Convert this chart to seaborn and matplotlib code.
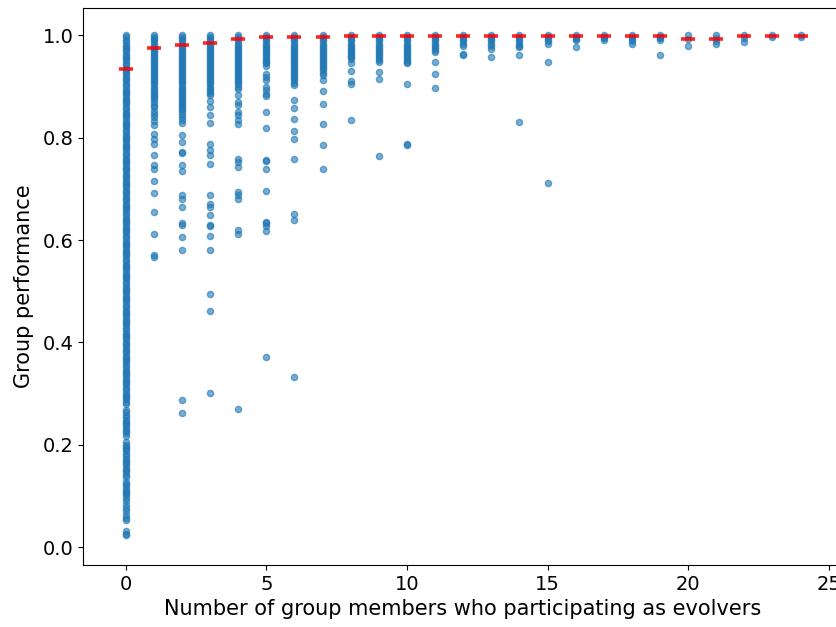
import matplotlib
matplotlib.use("Agg")
import matplotlib.pyplot as plt
import seaborn as sns
import pandas as pd

# ---- data ----
perf_0 = [
    1.000, 0.996, 0.991, 0.987, 0.982, 0.978, 0.973, 0.969, 0.964, 0.960,
    0.955, 0.951, 0.946, 0.942, 0.937, 0.933, 0.928, 0.924, 0.919, 0.915,
    0.910, 0.905, 0.901, 0.896, 0.892, 0.887, 0.883, 0.878, 0.874, 0.869,
    0.865, 0.860, 0.856, 0.851, 0.847, 0.842, 0.838, 0.833, 0.829, 0.824,
    0.820, 0.815, 0.811, 0.806, 0.802, 0.797, 0.793, 0.788, 0.784, 0.779,
    0.775, 0.770, 0.766, 0.761, 0.757, 0.752, 0.748, 0.743, 0.739, 0.734,
    0.730, 0.725, 0.721, 0.716, 0.712, 0.707, 0.703, 0.698, 0.694, 0.689,
    0.685, 0.680, 0.676, 0.671, 0.667, 0.662, 0.658, 0.653, 0.649, 0.644,
    0.640, 0.635, 0.631, 0.626, 0.622, 0.617, 0.613, 0.608, 0.604, 0.599,
    0.595, 0.590, 0.586, 0.581, 0.577, 0.572, 0.568, 0.563, 0.559, 0.554,
    0.550, 0.545, 0.541, 0.536, 0.532, 0.527, 0.523, 0.518, 0.514, 0.509,
    0.505, 0.500, 0.496, 0.491, 0.487, 0.482, 0.478, 0.473, 0.469, 0.464,
    0.460, 0.455, 0.451, 0.446, 0.442, 0.437, 0.433, 0.428, 0.424, 0.419,
    0.415, 0.410, 0.406, 0.401, 0.397, 0.392, 0.388, 0.383, 0.379, 0.374,
    0.370, 0.365, 0.361, 0.356, 0.352, 0.347, 0.343, 0.338, 0.334, 0.329,
    0.325, 0.320, 0.316, 0.311, 0.307, 0.302, 0.298, 0.293, 0.289, 0.284,
    0.279, 0.268, 0.263, 0.258, 0.254, 0.249, 0.245, 0.240, 0.236, 0.231,
    0.227, 0.222, 0.218, 0.205, 0.200, 0.196, 0.191, 0.187, 0.182, 0.178,
    0.173, 0.169, 0.164, 0.160, 0.155, 0.151, 0.146, 0.141, 0.137, 0.128,
    0.123, 0.119, 0.114, 0.110, 0.105, 0.101, 0.096, 0.090, 0.083, 0.076,
    0.070, 0.062, 0.057, 0.053, 0.031, 0.026, 0.023,
]
perf_1 = [
    1.000, 0.996, 0.992, 0.988, 0.984, 0.980, 0.976, 0.972, 0.968, 0.964,
    0.960, 0.956, 0.952, 0.948, 0.944, 0.940, 0.936, 0.932, 0.928, 0.924,
    0.920, 0.916, 0.912, 0.908, 0.904, 0.900, 0.896, 0.892, 0.888, 0.884,
    0.879, 0.875, 0.870, 0.864, 0.859, 0.853, 0.846, 0.840, 0.833, 0.824,
    0.808, 0.798, 0.788, 0.766, 0.746, 0.738, 0.715, 0.691, 0.655, 0.611,
    0.570, 0.567,
]
perf_2 = [
    1.000, 0.996, 0.992, 0.988, 0.984, 0.980, 0.976, 0.972, 0.968, 0.964,
    0.960, 0.956, 0.952, 0.948, 0.944, 0.940, 0.936, 0.932, 0.928, 0.924,
    0.920, 0.916, 0.912, 0.908, 0.904, 0.900, 0.896, 0.892, 0.888, 0.884,
    0.880, 0.876, 0.872, 0.868, 0.864, 0.860, 0.856, 0.852, 0.846, 0.840,
    0.834, 0.828, 0.806, 0.792, 0.773, 0.770, 0.747, 0.734, 0.688, 0.681,
    0.665, 0.633, 0.629, 0.605, 0.581, 0.288, 0.262,
]
perf_3 = [
    1.000, 0.996, 0.992, 0.988, 0.984, 0.980, 0.976, 0.972, 0.968, 0.964,
    0.960, 0.956, 0.952, 0.948, 0.944, 0.940, 0.936, 0.932, 0.928, 0.924,
    0.920, 0.916, 0.912, 0.908, 0.904, 0.900, 0.896, 0.892, 0.887, 0.883,
    0.871, 0.860, 0.844, 0.829, 0.788, 0.775, 0.766, 0.749, 0.688, 0.671,
    0.665, 0.648, 0.630, 0.627, 0.608, 0.581, 0.495, 0.462, 0.302,
]
perf_4 = [
    1.000, 0.996, 0.992, 0.988, 0.984, 0.980, 0.976, 0.972, 0.968, 0.964,
    0.960, 0.956, 0.952, 0.948, 0.944, 0.940, 0.936, 0.932, 0.928, 0.924,
    0.920, 0.916, 0.912, 0.908, 0.904, 0.900, 0.896, 0.883, 0.870, 0.863,
    0.850, 0.844, 0.834, 0.827, 0.759, 0.753, 0.743, 0.694, 0.688, 0.680,
    0.619, 0.611, 0.269,
]
perf_5 = [
    1.000, 0.996, 0.992, 0.988, 0.984, 0.980, 0.976, 0.972, 0.968, 0.964,
    0.960, 0.956, 0.952, 0.948, 0.945, 0.941, 0.925, 0.918, 0.912, 0.899,
    0.893, 0.886, 0.881, 0.850, 0.818, 0.757, 0.754, 0.738, 0.695, 0.636,
    0.634, 0.627, 0.618, 0.372,
]
perf_6 = [
    1.000, 0.996, 0.992, 0.988, 0.984, 0.980, 0.976, 0.972, 0.968, 0.964,
    0.960, 0.956, 0.952, 0.948, 0.944, 0.940, 0.936, 0.932, 0.928, 0.924,
    0.920, 0.916, 0.912, 0.907, 0.902, 0.873, 0.858, 0.837, 0.814, 0.798,
    0.758, 0.651, 0.639, 0.333,
]
perf_7 = [
    1.000, 0.996, 0.992, 0.988, 0.984, 0.980, 0.976, 0.972, 0.968, 0.964,
    0.960, 0.956, 0.952, 0.948, 0.944, 0.940, 0.936, 0.932, 0.927, 0.922,
    0.912, 0.891, 0.865, 0.827, 0.785, 0.738,
]
perf_8 = [
    1.000, 0.996, 0.992, 0.988, 0.984, 0.980, 0.976, 0.972, 0.968, 0.964,
    0.960, 0.957, 0.954, 0.945, 0.930, 0.910, 0.904, 0.834,
]
perf_9 = [
    1.000, 0.996, 0.992, 0.988, 0.984, 0.980, 0.976, 0.972, 0.968, 0.964,
    0.960, 0.956, 0.952, 0.948, 0.928, 0.914, 0.764,
]
perf_10 = [
    1.000, 0.996, 0.992, 0.988, 0.984, 0.980, 0.976, 0.972, 0.968, 0.964,
    0.960, 0.956, 0.952, 0.948, 0.945, 0.904, 0.788, 0.786,
]
perf_11 = [
    1.000, 0.996, 0.992, 0.988, 0.984, 0.980, 0.976, 0.972, 0.967, 0.948,
    0.924, 0.898,
]
perf_12 = [1.000, 0.996, 0.992, 0.988, 0.984, 0.980, 0.964, 0.962]
perf_13 = [1.000, 0.996, 0.992, 0.988, 0.984, 0.979, 0.974, 0.958]
perf_14 = [1.000, 0.996, 0.992, 0.988, 0.984, 0.980, 0.977, 0.961, 0.831]
perf_15 = [1.000, 0.996, 0.992, 0.988, 0.984, 0.948, 0.712]
perf_16 = [1.000, 0.996, 0.993, 0.990, 0.977]
perf_17 = [1.000, 0.997, 0.994, 0.990]
perf_18 = [1.000, 0.996, 0.992, 0.988, 0.984]
perf_19 = [1.000, 0.997, 0.994, 0.990, 0.961]
perf_20 = [1.000, 0.992, 0.979]
perf_21 = [1.000, 0.995, 0.989, 0.984]
perf_22 = [1.000, 0.995, 0.987]
perf_23 = [1.000, 0.997]
perf_24 = [1.000, 0.997]

evolvers = list(range(25))
mean_perf = [
    0.935, 0.976, 0.982, 0.986, 0.992, 0.996, 0.996, 0.996, 0.998, 0.998,
    0.998, 0.998, 0.9995, 0.9995, 0.9995, 0.9995, 0.9995, 0.9995, 0.9995, 0.9995,
    0.992, 0.992, 0.998, 0.999, 0.998,
]

x_ticks = [0, 5, 10, 15, 20, 25]
y_ticks = [0.0, 0.2, 0.4, 0.6, 0.8, 1.0]

columns = [perf_0, perf_1, perf_2, perf_3, perf_4, perf_5, perf_6, perf_7,
           perf_8, perf_9, perf_10, perf_11, perf_12, perf_13, perf_14,
           perf_15, perf_16, perf_17, perf_18, perf_19, perf_20, perf_21,
           perf_22, perf_23, perf_24]

rows_x, rows_y = [], []
for n, vals in zip(evolvers, columns):
    rows_x.extend([n] * len(vals))
    rows_y.extend(vals)
df = pd.DataFrame({"evolvers": rows_x, "performance": rows_y})
df_mean = pd.DataFrame({"evolvers": evolvers, "performance": mean_perf})

# ---- figure ----
plt.rcParams["font.family"] = ["DejaVu Sans"]
plt.rcParams["font.size"] = 14

fig = plt.figure(figsize=(8.37, 6.27), dpi=100)
ax = fig.add_axes([0.0992, 0.0989, 0.906, 0.888])

sns.scatterplot(data=df, x="evolvers", y="performance", ax=ax,
                color="#1f77b4", edgecolor="#1f77b4", linewidth=1.0,
                s=20, alpha=0.6, legend=False)
sns.scatterplot(data=df_mean, x="evolvers", y="performance", ax=ax,
                marker="_", color="red", s=95, linewidth=2.6,
                alpha=0.85, legend=False)

ax.set_xlim(-1.52, 25.45)
ax.set_ylim(-0.035, 1.053)
ax.set_xticks(x_ticks)
ax.set_yticks(y_ticks)
ax.set_yticklabels([f"{v:.1f}" for v in y_ticks])
ax.tick_params(labelsize=14)
ax.set_xlabel("Number of group members who participating as evolvers", fontsize=15)
ax.set_ylabel("Group performance", fontsize=15, labelpad=6)

fig.savefig("out.png", dpi=100)
